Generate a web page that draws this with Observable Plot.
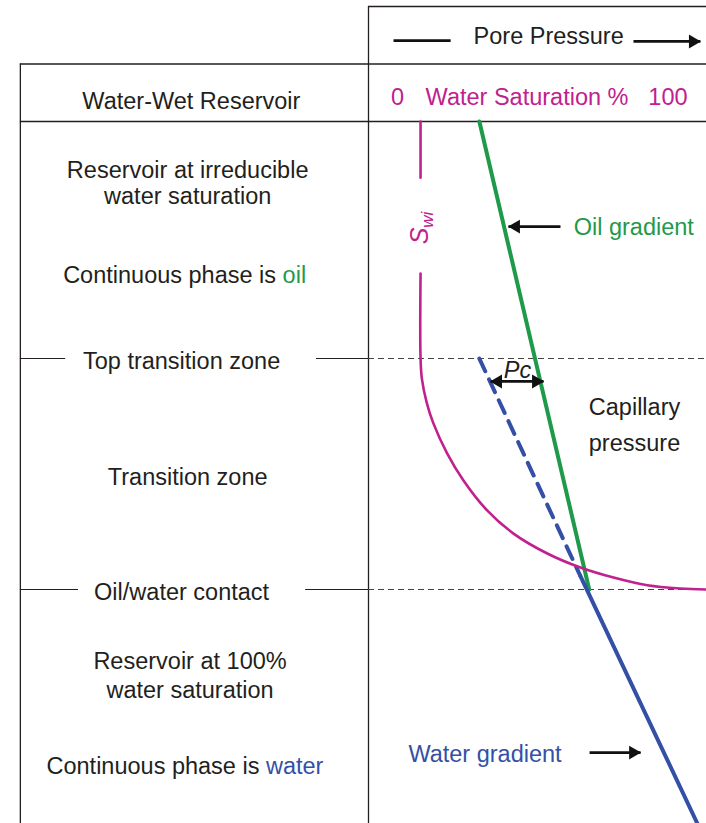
<!DOCTYPE html>
<html><head><meta charset="utf-8">
<script src="https://cdn.jsdelivr.net/npm/d3@7"></script>
<script src="https://cdn.jsdelivr.net/npm/@observablehq/plot@0.6"></script>
<style>body{margin:0;background:#fff}</style>
</head><body><div id="chart"></div>
<script>
// ---------- data (pressure / water saturation in % of panel, depth in arbitrary units) ----------
const zoneNames = ["Top transition zone", "Oil/water contact"];
const zoneDepths = [101.3, 200];
const transitionLabel = "Transition zone";
const transitionLabelDepth = 152;

const oilGradientPressure = [32.8, 65.3];
const oilGradientDepth = [0, 200];
const waterGradientPressure = [62.6, 97.3];
const waterGradientDepth = [194, 300];
const waterExtrapPressure = [32.8, 62.6];
const waterExtrapDepth = [101.3, 194];

const swi = 15.4;
const swiTopDepth = [0, 24];
const swCurveSw = [15.4, 15.4, 15.8, 17.2, 19.2, 23.3, 28.1, 35.1, 42.9, 52.9, 62.7, 72.5, 82.5, 92.3, 100];
const swCurveDepth = [65, 101.3, 110, 120, 129, 141.9, 153.4, 166.2, 176.1, 184.6, 190.6, 194.9, 198.2, 199.6, 200];

const pcDepth = 111.1;
const pcPressure = [36.1, 51.8];

const satTicks = ["0", "100"];
const satTickValues = [8.6, 88.6];

// ---------- styles ----------
const INK = "#231f20", MAG = "#c0218f", GREEN = "#1f9a4a", BLUE = "#3450a6";
const FONT = "'Liberation Sans', Arial, Helvetica, sans-serif";

// layout in scale units (x: left panel uses negative values; y: header uses negative values)
const L = {left: -103, center: -53.5, top: -49.15, row: -24.57};

const pts = (xs, ys) => xs.map((x, i) => ({x, y: ys[i]}));
const frameStroke = {stroke: INK, strokeWidth: 1.3};

const arrowMarks = (x1, x2, y, heads) => {
  const m = [Plot.link([{x1, x2, y}], {x1: "x1", x2: "x2", y1: "y", y2: "y", stroke: "#111", strokeWidth: 2.8})];
  const dir = Math.sign(x2 - x1);
  const head = {x: "x", y: "y", symbol: "triangle2", r: 6.6, fill: "#111"};
  if (heads.includes("end")) m.push(Plot.dot([{x: x2, y}], {...head, rotate: dir > 0 ? 90 : -90, dx: -dir * 7.5}));
  if (heads.includes("start")) m.push(Plot.dot([{x: x1, y}], {...head, rotate: dir > 0 ? -90 : 90, dx: dir * 7.5}));
  return m;
};

const chart = Plot.plot({
  width: 706, height: 823,
  marginTop: 0, marginLeft: 0, marginRight: 0, marginBottom: 0,
  x: {domain: [0, 100], range: [368, 706], axis: null},
  y: {domain: [0, 300], range: [121, 823], axis: null},
  style: {fontFamily: FONT, fontSize: "23.5px", background: "white", color: INK},
  marks: [
    // table frame
    Plot.ruleX([0], {y1: L.top, y2: 300, ...frameStroke}),
    Plot.ruleX([L.left], {y1: L.row, y2: 300, ...frameStroke}),
    Plot.ruleY([L.top], {x1: 0, x2: 100, ...frameStroke}),
    Plot.ruleY([L.row, 0], {x1: L.left, x2: 100, ...frameStroke}),

    // zone boundaries
    Plot.ruleY([
      {y: zoneDepths[0], x1: L.left, x2: -89.6}, {y: zoneDepths[0], x1: -15.4, x2: 0},
      {y: zoneDepths[1], x1: L.left, x2: -85.8}, {y: zoneDepths[1], x1: -18.6, x2: 0}
    ], {y: "y", x1: "x1", x2: "x2", stroke: INK, strokeWidth: 1.1}),
    Plot.ruleY(zoneDepths, {x1: 0, x2: 100, stroke: "#444", strokeWidth: 1.1, strokeDasharray: "6,4"}),

    // gradient lines
    Plot.line(pts(oilGradientPressure, oilGradientDepth), {x: "x", y: "y", stroke: GREEN, strokeWidth: 4}),
    Plot.line(pts(waterExtrapPressure, waterExtrapDepth), {x: "x", y: "y", stroke: BLUE, strokeWidth: 4, strokeDasharray: "14,9"}),
    Plot.line(pts(waterGradientPressure, waterGradientDepth), {x: "x", y: "y", stroke: BLUE, strokeWidth: 4}),

    // water saturation
    Plot.line(pts([swi, swi], swiTopDepth), {x: "x", y: "y", stroke: MAG, strokeWidth: 2.6}),
    Plot.line(pts(swCurveSw, swCurveDepth), {x: "x", y: "y", stroke: MAG, strokeWidth: 2.6, curve: "catmull-rom"}),

    // header
    Plot.text(["Pore Pressure"], {x: 53.3, y: -36.2, fill: INK}),
    Plot.link([{x1: 7.4, x2: 24.3, y: -34.6}], {x1: "x1", x2: "x2", y1: "y", y2: "y", stroke: "#111", strokeWidth: 2.8}),
    ...arrowMarks(78.4, 98.2, -34.2, "end"),
    Plot.text(["Water-Wet Reservoir"], {x: -52.4, y: -8.5, fill: INK}),
    Plot.text(satTicks, {x: (d, i) => satTickValues[i], y: -10.4, fill: MAG}),
    Plot.text(["Water Saturation %"], {x: 46.9, y: -10.4, fill: MAG}),

    // left panel
    Plot.text(["Reservoir at irreducible\nwater saturation"], {x: L.center, y: 26.2, fill: INK, lineHeight: 1.12}),
    Plot.text(["Continuous phase is oil"], {x: -54.4, y: 65.8, fill: INK}),
    Plot.text(zoneNames, {x: -55.3, y: (d, i) => zoneDepths[i], dy: 3, fill: INK}),
    Plot.text([transitionLabel], {x: L.center, y: transitionLabelDepth, fill: INK}),
    Plot.text(["Reservoir at 100%\nwater saturation"], {x: -52.8, y: 236.2, fill: INK, lineHeight: 1.22}),
    Plot.text(["Continuous phase is water"], {x: -54.3, y: 275.6, fill: INK}),

    // annotations
    Plot.text(["Swi"], {x: swi, y: 45.5, rotate: -90, fill: MAG, fontStyle: "italic"}),
    Plot.text(["Oil gradient"], {x: 60.7, y: 45.3, textAnchor: "start", fill: GREEN}),
    ...arrowMarks(56.8, 41.4, 44.9, "end"),
    Plot.text(["Pc"], {x: 44.1, y: 106.4, fill: INK, fontStyle: "italic"}),
    ...arrowMarks(pcPressure[0], pcPressure[1], pcDepth, "start end"),
    Plot.text(["Capillary\npressure"], {x: 78.7, y: 128.2, fill: INK, lineHeight: 1.53}),
    Plot.text(["Water gradient"], {x: 11.8, y: 270.5, textAnchor: "start", fill: BLUE}),
    ...arrowMarks(65.4, 80.5, 269.7, "end")
  ]
});

// rich text tweaks: coloured words and subscript
d3.select(chart).selectAll("text").each(function () {
  const s = this.textContent;
  const t = d3.select(this);
  if (s === "Continuous phase is oil" || s === "Continuous phase is water") {
    const word = s.endsWith("oil") ? "oil" : "water";
    t.text(null);
    t.append("tspan").text("Continuous phase is ");
    t.append("tspan").attr("fill", word === "oil" ? GREEN : BLUE).text(word);
  } else if (s === "Swi") {
    t.text(null);
    t.append("tspan").attr("font-size", 25).text("S");
    t.append("tspan").attr("font-size", 17).attr("dy", "0.3em").text("wi");
  }
});

document.getElementById("chart").appendChild(chart);
</script>
</body></html>
